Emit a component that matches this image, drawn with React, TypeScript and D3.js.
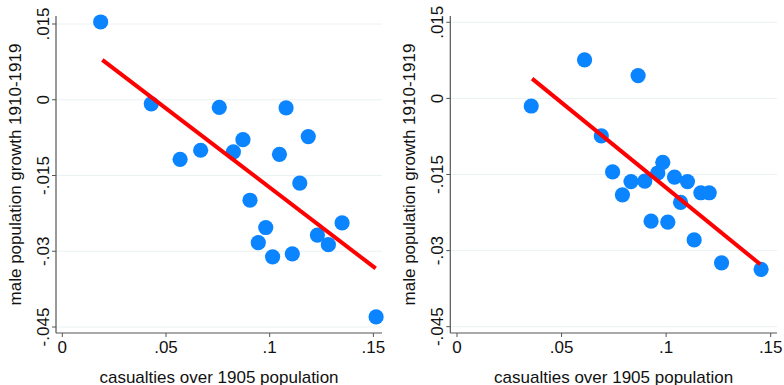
import * as d3 from 'd3';

// panel 1: all departments
const leftX = [0.0185, 0.0429, 0.0568, 0.0667, 0.0757, 0.0825, 0.0871, 0.0905, 0.0981, 0.0945, 0.1014, 0.1047, 0.1079, 0.1109, 0.1145, 0.1186, 0.123, 0.1283, 0.1349, 0.1513];
const leftY = [0.0154, -0.0008, -0.0118, -0.01, -0.0015, -0.0103, -0.0079, -0.0199, -0.0253, -0.0283, -0.0311, -0.0108, -0.0016, -0.0305, -0.0165, -0.0073, -0.0268, -0.0287, -0.0244, -0.043];
const leftFit = [[0.0193, 0.0079], [0.1511, -0.0334]];

// panel 2
const rightX = [0.0355, 0.061, 0.0866, 0.069, 0.0744, 0.0791, 0.0832, 0.0898, 0.0928, 0.096, 0.0984, 0.1008, 0.104, 0.1069, 0.1102, 0.1134, 0.1166, 0.1206, 0.1265, 0.1454];
const rightY = [-0.0015, 0.0076, 0.0045, -0.0074, -0.0145, -0.019, -0.0164, -0.0163, -0.0242, -0.0147, -0.0126, -0.0244, -0.0155, -0.0205, -0.0164, -0.0279, -0.0186, -0.0186, -0.0324, -0.0337];
const rightFit = [[0.0359, 0.0039], [0.145, -0.0327]];

const xTicks = [0, 0.05, 0.1, 0.15];
const xTickLabels = ['0', '.05', '.1', '.15'];
const yTicks = [0.015, 0, -0.015, -0.03, -0.045];
const yTickLabels = ['.015', '0', '-.015', '-.03', '-.045'];

const FONT = '"Liberation Sans", Arial, Helvetica, sans-serif';

type PanelProps = {
  xs: number[];
  ys: number[];
  fit: number[][];
  axisX: number;      // left axis line position
  x0: number;         // pixel for x=0
  x15: number;        // pixel for x=.15
  yTop: number;       // pixel for y=.015
  yBot: number;       // pixel for y=-.045
  right: number;
};

const Panel = ({ xs, ys, fit, axisX, x0, x15, yTop, yBot, right }: PanelProps) => {
  const xScale = d3.scaleLinear().domain([0, 0.15]).range([x0, x15]);
  const yScale = d3.scaleLinear().domain([0.015, -0.045]).range([yTop, yBot]);
  const axisY = 333;
  const top = 16;
  const line = d3.line<number[]>().x((d) => xScale(d[0])).y((d) => yScale(d[1]));

  return (
    <g>
      {/* grid */}
      {yTicks.map((t) => (
        <line key={t} x1={axisX} x2={right} y1={yScale(t)} y2={yScale(t)} stroke="#eaf2f3" strokeWidth={1} />
      ))}
      {/* points */}
      {xs.map((x, i) => (
        <circle key={i} cx={xScale(x)} cy={yScale(ys[i])} r={7.6} fill="#0a84ff" />
      ))}
      <path d={line(fit) || ''} stroke="#ff0000" strokeWidth={4} fill="none" />
      {/* axes */}
      <line x1={axisX} x2={axisX} y1={top} y2={axisY} stroke="#555" strokeWidth={1.2} />
      <line x1={axisX} x2={right} y1={axisY} y2={axisY} stroke="#555" strokeWidth={1.2} />
      {yTicks.map((t, i) => (
        <g key={t}>
          <line x1={axisX - 4} x2={axisX} y1={yScale(t)} y2={yScale(t)} stroke="#555" strokeWidth={1} />
          <text
            transform={`translate(${axisX - 13}, ${yScale(t)}) rotate(-90)`}
            textAnchor="middle"
            dominantBaseline="central"
            fontSize={17}
            fontFamily={FONT}
            fill="#111"
          >
            {yTickLabels[i]}
          </text>
        </g>
      ))}
      {xTicks.map((t, i) => (
        <g key={t}>
          <line x1={xScale(t)} x2={xScale(t)} y1={axisY} y2={axisY + 4} stroke="#555" strokeWidth={1} />
          <text x={xScale(t)} y={axisY + 14} textAnchor="middle" dominantBaseline="central" fontSize={17} fontFamily={FONT} fill="#111">
            {xTickLabels[i]}
          </text>
        </g>
      ))}
      <text x={(axisX + right) / 2} y={377} textAnchor="middle" dominantBaseline="central" fontSize={17} fontFamily={FONT} fill="#111">
        casualties over 1905 population
      </text>
      <text
        transform={`translate(${axisX - 41}, ${(top + axisY) / 2}) rotate(-90)`}
        textAnchor="middle"
        dominantBaseline="central"
        fontSize={17}
        fontFamily={FONT}
        fill="#111"
      >
        male population growth 1910-1919
      </text>
    </g>
  );
};

export default function App() {
  return (
    <div style={{ position: 'fixed', left: 0, top: 0 }}>
      <svg width={784} height={385} style={{ display: 'block', background: '#fff' }}>
        <Panel xs={leftX} ys={leftY} fit={leftFit} axisX={56} x0={62.3} x15={373.4} yTop={24} yBot={327} right={382} />
        <Panel xs={rightX} ys={rightY} fit={rightFit} axisX={450.3} x0={457} x15={770.7} yTop={22.3} yBot={326.7} right={777} />
      </svg>
    </div>
  );
}
